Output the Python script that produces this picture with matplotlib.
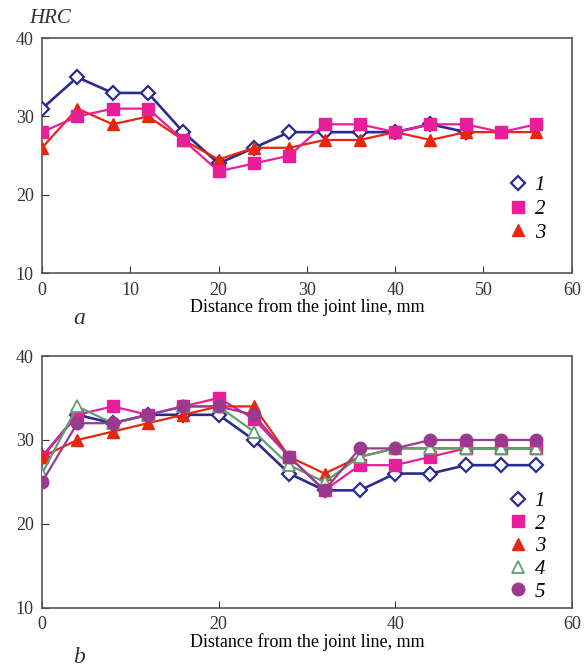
import matplotlib.pyplot as plt

# (a) panel
dist_a = [0, 4, 8, 12, 16, 20, 24, 28, 32, 36, 40, 44, 48, 52, 56]
a1 = [31, 35, 33, 33, 28, 24, 26, 28, 28, 28, 28, 29, 28]
a2 = [28, 30, 31, 31, 27, 23, 24, 25, 29, 29, 28, 29, 29, 28, 29]
a3 = [26, 31, 29, 30, 27, 24.5, 26, 26, 27, 27, 28, 27, 28, 28, 28]

# (b) panel
dist_b = [0, 4, 8, 12, 16, 20, 24, 28, 32, 36, 40, 44, 48, 52, 56]
b1 = [28, 33, 32, 33, 33, 33, 30, 26, 24, 24, 26, 26, 27, 27, 27]
b2 = [28, 33, 34, 33, 34, 35, 32.5, 28, 24, 27, 27, 28, 29, 29, 29]
b3 = [28, 30, 31, 32, 33, 34, 34, 28, 26, 28, 29, 29, 29, 29, 29]
b4 = [26, 34, 32, 33, 34, 34, 31, 27, 25, 28, 29, 29, 29, 29, 29]
b5 = [25, 32, 32, 33, 34, 34, 33, 28, 24, 29, 29, 30, 30, 30, 30]

plt.rcParams['font.family'] = ['Liberation Serif', 'DejaVu Serif']

navy = '#2b2b8f'
pink = '#ea1e9a'
red = '#e8260f'
green = '#5e9e72'
purple = '#9a3a8e'

fig = plt.figure(figsize=(5.84, 6.68), dpi=100)
ax1 = fig.add_axes([0.072, 0.591, 0.907, 0.352])
ax2 = fig.add_axes([0.072, 0.090, 0.907, 0.377])

ax1.plot(dist_a[:len(a1)], a1, color=navy, lw=1.9, marker='D', ms=7.5,
         mfc='white', mew=1.6, label='1', zorder=3)
ax1.plot(dist_a, a2, color=pink, lw=1.6, marker='s', ms=8.5, label='2', zorder=5)
ax1.plot(dist_a, a3, color=red, lw=1.6, marker='^', ms=9, label='3', zorder=4)

ax2.plot(dist_b, b1, color=navy, lw=1.9, marker='D', ms=7.5, mfc='white', mew=1.6, label='1', zorder=3)
ax2.plot(dist_b, b2, color=pink, lw=1.6, marker='s', ms=8.5, label='2', zorder=4)
ax2.plot(dist_b, b3, color=red, lw=1.6, marker='^', ms=9, label='3', zorder=5)
ax2.plot(dist_b, b4, color=green, lw=1.6, marker='^', ms=9, mfc='white', mew=1.3, label='4', zorder=6)
ax2.plot(dist_b, b5, color=purple, lw=1.6, marker='o', ms=9, label='5', zorder=7)

for ax, xt in [(ax1, range(0, 61, 10)), (ax2, range(0, 61, 20))]:
    ax.set_xlim(0, 60)
    ax.set_ylim(10, 40)
    ax.set_xticks(list(xt))
    ax.set_yticks([10, 20, 30, 40])
    ax.tick_params(direction='in', length=5, labelsize=13, colors='#333333',
                   top=False, right=False, pad=6)
    for s in ax.spines.values():
        s.set_color('#555555')
        s.set_linewidth(1.2)
    ax.set_xlabel('Distance from the joint line, mm', fontsize=13, labelpad=0)

leg1 = ax1.legend(loc='lower right', bbox_to_anchor=(0.985, 0.05), frameon=False,
                  handlelength=0.8, handletextpad=0.4, labelspacing=0.2,
                  prop={'style': 'italic', 'size': 15})
leg2 = ax2.legend(loc='lower right', bbox_to_anchor=(0.985, -0.05), frameon=False,
                  handlelength=0.8, handletextpad=0.4, labelspacing=0.15,
                  prop={'style': 'italic', 'size': 15})
for leg in (leg1, leg2):
    leg.set_zorder(10)
    for line in leg.get_lines():
        line.set_linestyle('none')

fig.text(0.05, 0.966, 'HRC', fontsize=15, style='italic', color='#333333')
fig.text(0.125, 0.515, 'a', fontsize=17, style='italic', color='#333333')
fig.text(0.125, 0.008, 'b', fontsize=17, style='italic', color='#333333')

fig.savefig('out.png', dpi=100)
